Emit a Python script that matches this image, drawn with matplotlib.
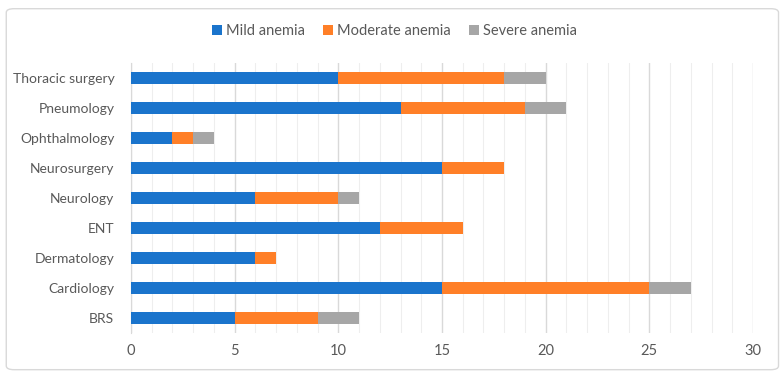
import numpy as np
import matplotlib.pyplot as plt
from matplotlib.patches import FancyBboxPatch

departments = ["BRS", "Cardiology", "Dermatology", "ENT", "Neurology",
               "Neurosurgery", "Ophthalmology", "Pneumology", "Thoracic surgery"]
mild = [5, 15, 6, 12, 6, 15, 2, 13, 10]
moderate = [4, 10, 1, 4, 4, 3, 1, 6, 8]
severe = [2, 2, 0, 0, 1, 0, 1, 2, 2]
series_names = ["Mild anemia", "Moderate anemia", "Severe anemia"]
colors = ["#1a74cc", "#ff7f27", "#a6a6a6"]

plt.rcParams["font.family"] = ["Lato", "DejaVu Sans"]

fig = plt.figure(figsize=(7.84, 3.78), dpi=100)
ax = fig.add_axes([0.167, 0.119, 0.7935, 0.714])

y = np.arange(len(departments))
left = np.zeros(len(departments))
for vals, name, c in zip([mild, moderate, severe], series_names, colors):
    vals = np.array(vals, dtype=float)
    ax.barh(y, vals, left=left, height=0.4, color=c, label=name, zorder=3)
    left += vals

ax.set_xlim(0, 30)
ax.set_ylim(-0.5, 8.5)
ax.set_xticks(range(0, 31, 5))
ax.set_xticks(range(0, 31, 1), minor=True)
ax.grid(axis="x", which="major", color="#d9d9d9", linewidth=1.0, zorder=0)
ax.grid(axis="x", which="minor", color="#eeeeee", linewidth=0.8, zorder=0)
ax.set_yticks(y)
ax.set_yticklabels(departments)
ax.tick_params(axis="both", which="both", length=0, labelsize=10.5, labelcolor="#595959")
ax.tick_params(axis="x", pad=8)
ax.tick_params(axis="y", pad=12, labelsize=10)
for s in ["top", "right", "bottom"]:
    ax.spines[s].set_visible(False)
ax.spines["left"].set_color("#d9d9d9")

handles, labels = ax.get_legend_handles_labels()
fig.legend(handles, labels, loc="center", bbox_to_anchor=(0.503, 0.918), ncol=3, frameon=False,
           fontsize=10.5, labelcolor="#595959", handlelength=0.7, handleheight=0.7,
           handletextpad=0.3, columnspacing=1.2)

border = FancyBboxPatch((0.008, 0.022), 0.985, 0.955, boxstyle="round,pad=0,rounding_size=0.01",
                        transform=fig.transFigure, fill=False, edgecolor="#d9d9d9", linewidth=1)
fig.patches.append(border)

fig.savefig("out.png", dpi=100)
